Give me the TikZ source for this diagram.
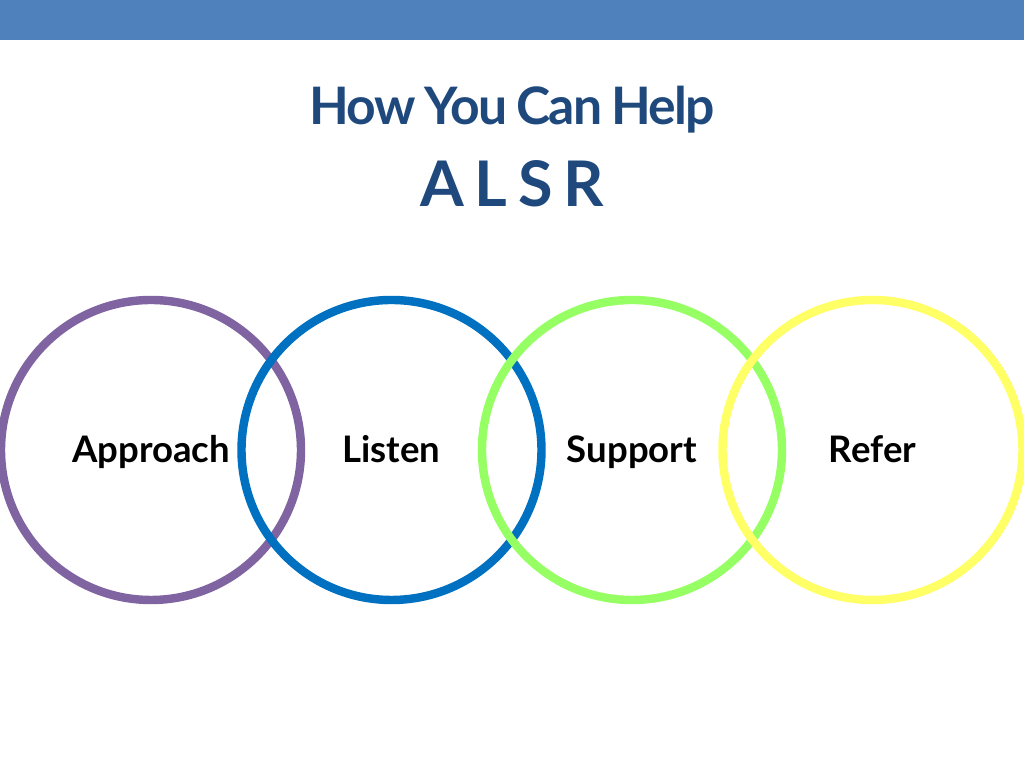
\documentclass[tikz,border=0pt]{standalone}
\usepackage{fontspec}
\setmainfont{Lato}
\newfontfamily\headfont[LetterSpace=-3.2,WordSpace=0.8]{Lato}
\usetikzlibrary{positioning}

\definecolor{barblue}{RGB}{79,129,189}
\definecolor{titleblue}{RGB}{31,73,125}
\definecolor{ringpurple}{RGB}{128,100,162}
\definecolor{ringblue}{RGB}{0,112,192}
\definecolor{ringgreen}{RGB}{150,255,100}
\definecolor{ringyellow}{RGB}{255,255,102}

\begin{document}
\begin{tikzpicture}[node distance=2.405cm,
                    title/.style={text=titleblue,font=\headfont\bfseries\fontsize{14.7}{16}\selectfont,anchor=base},
                    ring/.style={circle,draw,line width=2.4pt,minimum size=3cm,inner sep=0pt,
                                 text height=2.6mm,text depth=0pt,font=\bfseries\fontsize{10.4}{12}\selectfont}]
  \useasboundingbox (0,0) rectangle (10.24,7.68);
  \fill[barblue] (0,7.28) rectangle (10.24,7.68);
  \node[title] (head) at (5.12,6.43) {How You Can Help};
  \node[title,font=\headfont\bfseries\fontsize{17.9}{20}\selectfont] (alsr) at (5.12,5.61) {A L S R};
  \node[ring,draw=ringpurple] (1) at (1.51,3.18) {Approach};
  \node[ring,draw=ringblue]   (2) [right of=1] {Listen};
  \node[ring,draw=ringgreen]  (3) [right of=2] {Support};
  \node[ring,draw=ringyellow] (4) [right of=3] {Refer};
\end{tikzpicture}
\end{document}
